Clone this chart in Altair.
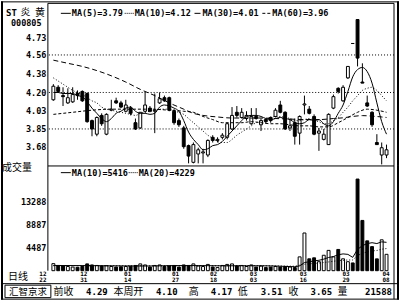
import altair as alt
import pandas as pd

# ---------------- data ----------------
opens = [4.13, 4.25, 4.17, 4.10, 4.11, 4.19, 4.21, 4.19, 3.93, 3.80,
         3.98, 3.80, 4.03, 4.12, 4.10, 4.02, 4.05, 3.91, 3.86, 4.02,
         4.05, 4.02, 4.10, 4.15, 4.15, 4.02, 3.93, 3.86, 3.69, 3.53,
         3.61, 3.62, 3.60, 3.77, 3.74, 3.77, 3.77, 3.85, 4.01, 3.96,
         3.95, 3.90, 3.97, 3.89, 3.94, 3.96, 3.97, 4.08, 4.01, 3.86,
         3.91, 3.81, 4.08, 4.04, 3.97, 3.81, 3.75, 3.70, 4.05, 4.24,
         4.12, 4.34, 4.67, 4.90, 4.30, 4.10, 4.01, 3.72, 3.60, 3.60]
highs = [4.28, 4.27, 4.25, 4.24, 4.25, 4.22, 4.22, 4.20, 3.94, 3.97,
         4.00, 4.00, 4.13, 4.15, 4.12, 4.13, 4.07, 3.95, 4.01, 4.20,
         4.07, 4.19, 4.20, 4.17, 4.16, 4.04, 3.95, 3.88, 3.70, 3.72,
         3.67, 3.66, 3.75, 3.79, 3.77, 3.81, 3.91, 4.06, 4.07, 4.05,
         4.02, 4.05, 4.05, 3.95, 3.95, 3.97, 4.05, 4.12, 4.02, 3.95,
         3.95, 3.98, 4.17, 4.07, 3.99, 3.86, 3.85, 4.00, 4.18, 4.25,
         4.27, 4.45, 4.67, 4.90, 4.48, 4.17, 4.02, 3.80, 3.72, 3.70]
lows = [4.12, 4.20, 4.07, 4.09, 4.10, 4.13, 4.11, 3.91, 3.78, 3.78,
        3.88, 3.79, 4.02, 4.09, 4.05, 4.01, 3.98, 3.84, 3.85, 4.01,
        4.01, 3.81, 4.09, 4.11, 4.02, 3.89, 3.87, 3.66, 3.52, 3.52,
        3.52, 3.52, 3.58, 3.72, 3.72, 3.75, 3.75, 3.84, 3.96, 3.95,
        3.93, 3.89, 3.94, 3.83, 3.90, 3.91, 3.96, 4.00, 3.84, 3.83,
        3.70, 3.70, 3.99, 3.99, 3.79, 3.64, 3.74, 3.70, 4.04, 4.19,
        4.11, 4.33, 4.67, 4.45, 4.29, 4.06, 3.87, 3.70, 3.51, 3.57]
closes = [4.26, 4.21, 4.16, 4.15, 4.18, 4.17, 4.12, 3.92, 3.85, 3.96,
          3.90, 3.99, 4.04, 4.10, 4.06, 4.08, 4.00, 3.85, 4.01, 4.08,
          4.02, 4.03, 4.14, 4.12, 4.03, 3.91, 3.89, 3.68, 3.59, 3.70,
          3.65, 3.63, 3.74, 3.74, 3.75, 3.79, 3.90, 3.98, 3.98, 4.01,
          3.98, 3.97, 3.95, 3.93, 3.92, 3.93, 4.03, 4.01, 3.85, 3.88,
          3.78, 3.97, 4.09, 4.00, 3.80, 3.83, 3.80, 3.99, 4.16, 4.21,
          4.25, 4.45, 4.67, 4.53, 4.29, 4.07, 3.89, 3.70, 3.67, 3.65]
volumes = [1350, 1000, 900, 800, 700, 650, 800, 1300, 1100, 1000,
           900, 950, 800, 700, 750, 800, 850, 1000, 1300, 1100,
           700, 1000, 1100, 800, 900, 1000, 700, 1100, 1000, 1300,
           900, 800, 1200, 700, 600, 1000, 1200, 1300, 900, 1000,
           800, 1100, 700, 900, 600, 700, 800, 700, 800, 700,
           600, 2640, 7200, 2270, 2460, 1720, 2950, 3880, 2640, 4060,
           2270, 1720, 1480, 17500, 9600, 5700, 4600, 2260, 5900, 3128]

ma5 = [4.20, 4.20, 4.19, 4.19, 4.19, 4.17, 4.16, 4.11, 4.05, 4.00,
       3.95, 3.92, 3.95, 4.00, 4.02, 4.05, 4.06, 4.02, 4.00, 4.00,
       3.99, 4.00, 4.06, 4.08, 4.07, 4.05, 4.02, 3.93, 3.82, 3.75,
       3.70, 3.65, 3.66, 3.69, 3.70, 3.73, 3.78, 3.83, 3.88, 3.93,
       3.97, 3.98, 3.98, 3.97, 3.95, 3.94, 3.95, 3.96, 3.95, 3.94,
       3.91, 3.90, 3.91, 3.94, 3.93, 3.94, 3.90, 3.88, 3.92, 4.00,
       4.08, 4.21, 4.35, 4.42, 4.44, 4.40, 4.29, 4.10, 3.92, 3.80]
ma10 = [4.34, 4.31, 4.28, 4.25, 4.22, 4.20, 4.18, 4.15, 4.12, 4.10,
        4.06, 4.04, 4.03, 4.02, 4.01, 4.00, 3.99, 3.98, 4.00, 4.01,
        4.02, 4.03, 4.04, 4.04, 4.04, 4.02, 4.01, 3.99, 3.95, 3.91,
        3.87, 3.83, 3.79, 3.76, 3.73, 3.72, 3.72, 3.75, 3.79, 3.82,
        3.85, 3.88, 3.91, 3.92, 3.94, 3.96, 3.97, 3.97, 3.96, 3.95,
        3.93, 3.93, 3.94, 3.95, 3.93, 3.92, 3.90, 3.90, 3.93, 3.96,
        4.01, 4.06, 4.12, 4.17, 4.22, 4.24, 4.25, 4.22, 4.17, 4.12]
ma30_i = [0, 4, 8, 12, 16, 20, 24, 27, 29, 31, 33, 35, 37, 39, 41, 43, 45,
          47, 49, 51, 53, 55, 57, 59, 61, 63, 65, 67, 69]
ma30_v = [3.99, 4.01, 4.03, 4.04, 4.04, 4.04, 4.03, 4.02, 4.01, 3.97, 3.94,
          3.91, 3.91, 3.91, 3.92, 3.91, 3.90, 3.90, 3.89, 3.88, 3.88, 3.87,
          3.87, 3.91, 3.96, 4.01, 4.04, 4.03, 4.01]
ma60_i = [0, 3, 6, 9, 12, 15, 18, 21, 24, 27, 29, 31, 34, 37, 40, 43, 46,
          49, 52, 55, 58, 60, 62, 64, 66, 69]
ma60_v = [4.51, 4.48, 4.45, 4.41, 4.36, 4.30, 4.23, 4.17, 4.10, 4.04, 4.00,
          3.98, 3.965, 3.955, 3.955, 3.955, 3.95, 3.945, 3.94, 3.94, 3.95,
          3.957, 3.97, 3.978, 3.973, 3.96]

vma10_i = [0, 9, 15, 20, 25, 30, 35, 40, 45, 50, 51, 52, 53, 54, 55, 56, 57,
           58, 59, 60, 61, 62, 63, 64, 65, 66, 67, 68, 69]
vma10_v = [1000, 960, 910, 895, 975, 980, 930, 950, 920, 760, 914, 1564,
           1701, 1887, 1989, 2204, 2522, 2706, 3042, 3209, 3117, 2545, 4068,
           4782, 5180, 5345, 5183, 5509, 5416]
vma20_i = [0, 10, 19, 25, 30, 35, 40, 45, 50, 52, 55, 57, 59, 60, 61, 62, 63,
           64, 65, 66, 67, 68, 69]
vma20_v = [950, 950, 938, 943, 938, 953, 965, 925, 855, 1247, 1455, 1671,
           1926, 1990, 2036, 2055, 2895, 3330, 3585, 3775, 3853, 4108, 4229]

date_pos = [-2.17, 6.30, 15.39, 25.3, 33.16, 41.43, 51.75, 60.63, 68.89]
date_month = ["12", "12", "01", "01", "02", "03", "03", "03", "04"]
date_day = ["22", "31", "14", "27", "18", "03", "16", "29", "08"]

price_ticks = [3.68, 3.85, 4.03, 4.20, 4.38, 4.56, 4.73]
price_grid = [3.85, 4.20, 4.56]
vol_ticks = [4487, 8887, 13288]

stock_code = "000805"
price_legend = ["MA(5)=3.79", "MA(10)=4.12", "MA(30)=4.01", "MA(60)=3.96"]
vol_legend = ["MA(10)=5416", "MA(20)=4229"]
bar_names = ["前收", "本周开", "高", "低", "收", "量"]
bar_values = ["4.29", "4.10", "4.17", "3.51", "3.65", "21588"]

# ---------------- layout / style ----------------
MONO = "DejaVu Sans Mono"
CJK = "Noto Sans CJK SC"
W, PH, VH = 347, 163, 105
XDOM = [-1.136, 70.55]
PDOM = [3.495, 5.055]
VDOM = [0, 20000]

N = len(closes)
idx = list(range(N))
cdf = pd.DataFrame({"i": idx, "open": opens, "high": highs, "low": lows,
                    "close": closes, "vol": volumes})
cdf["il"] = cdf["i"] - 0.3
cdf["ir"] = cdf["i"] + 0.3
cdf["fill"] = ["white" if c > o else "black" for o, c in zip(opens, closes)]
cdf["zero"] = 0

xs = alt.Scale(domain=XDOM, nice=False, zero=False)
ps = alt.Scale(domain=PDOM, nice=False, zero=False)
vs = alt.Scale(domain=VDOM, nice=False)

axis_common = dict(ticks=False, domain=False, grid=False, labelFont=MONO,
                   labelFontSize=8.5, labelFontWeight="bold",
                   labelColor="black", labelPadding=2, title=None,
                   minExtent=47, maxExtent=47)
PAXIS = alt.Axis(values=price_ticks, format=".2f", **axis_common)
VAXIS = alt.Axis(values=vol_ticks, format="d", **axis_common)

one = pd.DataFrame({"k": [0]})


def hrule(x1, x2, y, w=1, dash=None):
    kw = dict(color="black", strokeWidth=w)
    if dash:
        kw["strokeDash"] = dash
    return alt.Chart(one).mark_rule(**kw).encode(
        x=alt.value(x1), x2=alt.value(x2), y=alt.value(y))


def vrule(x, y1, y2, w=1):
    return alt.Chart(one).mark_rule(color="black", strokeWidth=w).encode(
        x=alt.value(x), y=alt.value(y1), y2=alt.value(y2))


def label(x, y, s, font=MONO, size=8.5, align="left", bold=True):
    kw = dict(font=font, fontSize=size, align=align, baseline="middle",
              color="black")
    if bold:
        kw["fontWeight"] = "bold"
    return alt.Chart(one).mark_text(**kw).encode(
        x=alt.value(x), y=alt.value(y), text=alt.value(s))


def ma_line(ix, vals, scale, axis, dash=None, interp="monotone"):
    kw = dict(color="black", strokeWidth=1, clip=True, interpolate=interp)
    if dash:
        kw["strokeDash"] = dash
    df = pd.DataFrame({"i": ix, "v": vals})
    return alt.Chart(df).mark_line(**kw).encode(
        x=alt.X("i:Q", scale=xs, axis=None),
        y=alt.Y("v:Q", scale=scale, axis=axis))


# ---------------- price panel ----------------
grid = alt.Chart(pd.DataFrame({"g": price_grid})).mark_rule(
    color="black", strokeDash=[1, 2], strokeWidth=1).encode(
    y=alt.Y("g:Q", scale=ps, axis=PAXIS))

wick = alt.Chart(cdf).mark_rule(color="black", strokeWidth=1).encode(
    x=alt.X("i:Q", scale=xs, axis=None),
    y=alt.Y("low:Q", scale=ps, axis=PAXIS), y2="high:Q")

body = alt.Chart(cdf).mark_rect(stroke="black", strokeWidth=1).encode(
    x=alt.X("il:Q", scale=xs, axis=None), x2="ir:Q",
    y=alt.Y("open:Q", scale=ps, axis=PAXIS),
    y2="close:Q",
    fill=alt.Fill("fill:N", scale=None))

price_layers = [
    grid, wick, body,
    ma_line(ma60_i, ma60_v, ps, PAXIS, dash=[5, 3]),
    ma_line(ma30_i, ma30_v, ps, PAXIS, dash=[3, 2]),
    ma_line(idx, ma10, ps, PAXIS, dash=[1, 2]),
    ma_line(idx, ma5, ps, PAXIS),
    # plot frame
    hrule(0, W, 0), hrule(0, W, PH), vrule(0, 0, PH), vrule(W, 0, PH),
    # outer frame
    hrule(-47, W + 5, -1.5), vrule(-46, -2, PH, w=2), vrule(W + 4, -2, PH, w=2),
    # title
    label(-42, 9.7, "ST", size=9),
    label(-22.5, 9.7, "炎", font=CJK, size=10, align="center", bold=False),
    label(-8, 9.7, "黄", font=CJK, size=10, align="center", bold=False),
    label(-37, 19.7, stock_code, size=8.5),
    # legend
    hrule(13, 23, 10), label(24, 10, price_legend[0]),
    hrule(77, 86, 10, dash=[1, 1]), label(87, 10, price_legend[1]),
    hrule(147, 153, 10), label(155, 10, price_legend[2]),
    hrule(215, 224, 10, dash=[3, 2]), label(225, 10, price_legend[3]),
]
price = alt.layer(*price_layers).properties(width=W, height=PH)

# ---------------- volume panel ----------------
bars = alt.Chart(cdf).mark_rect(stroke="black", strokeWidth=1).encode(
    x=alt.X("il:Q", scale=xs, axis=None), x2="ir:Q",
    y=alt.Y("vol:Q", scale=vs, axis=VAXIS),
    y2="zero:Q",
    fill=alt.Fill("fill:N", scale=None))

dates = pd.DataFrame({"p": date_pos, "m": date_month, "d": date_day})
date_m = alt.Chart(dates).mark_text(font=MONO, fontSize=6, fontWeight="bold",
                                    baseline="middle", align="center",
                                    color="black").encode(
    x=alt.X("p:Q", scale=xs, axis=None), y=alt.value(108.3), text="m:N")
date_d = alt.Chart(dates).mark_text(font=MONO, fontSize=6, fontWeight="bold",
                                    baseline="middle", align="center",
                                    color="black").encode(
    x=alt.X("p:Q", scale=xs, axis=None), y=alt.value(114.8), text="d:N")

name_x = [5.7, 65.7, 141.3, 190.3, 241.3, 290.3]
value_right = [60, 130, 185, 235, 285, 345]
BY = 126

vol_layers = [
    bars,
    ma_line(vma20_i, vma20_v, vs, VAXIS, dash=[1, 2], interp="linear"),
    ma_line(vma10_i, vma10_v, vs, VAXIS, interp="linear"),
    date_m, date_d,
    # frames
    vrule(0, 0, VH), vrule(W, 0, 133.5),
    vrule(-46, 0, 134, w=2), vrule(W + 4, 0, 134, w=2),
    hrule(-47, W + 5, 118), hrule(-47, W + 5, 133.5),
    alt.Chart(one).mark_rect(fillOpacity=0, stroke="black", strokeWidth=1).encode(
        x=alt.value(-43), x2=alt.value(3), y=alt.value(119.5), y2=alt.value(132)),
    # texts
    label(-31, 2.5, "成交量", font=CJK, size=10, align="center", bold=False),
    hrule(13, 23, 6.7), label(24, 6.7, vol_legend[0]),
    hrule(81, 90, 6.7, dash=[1, 1]), label(91, 6.7, vol_legend[1]),
    label(-30, 111, "日线", font=CJK, size=10, align="center", bold=False),
    label(-20, BY, "汇智京求", font=CJK, size=9.5, align="center", bold=False),
]
for nm, nx in zip(bar_names, name_x):
    vol_layers.append(label(nx, BY, nm, font=CJK, size=10, bold=False))
for vv, vx in zip(bar_values, value_right):
    vol_layers.append(label(vx, BY, vv, size=9, align="right"))

vol = alt.layer(*vol_layers).properties(width=W, height=VH)

chart = alt.vconcat(price, vol, spacing=0, bounds="flush").properties(
    padding=0, background="white").configure_view(stroke=None)

chart.save("out.html", embed_options={"renderer": "svg", "actions": False})
